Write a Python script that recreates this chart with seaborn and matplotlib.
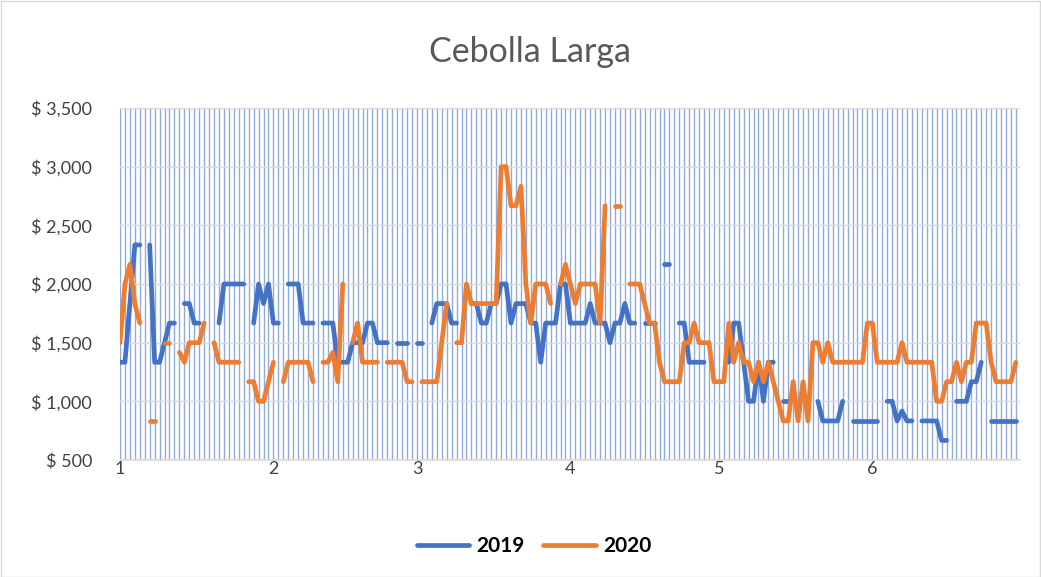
import numpy as np
import pandas as pd
import matplotlib
matplotlib.use("Agg")
import matplotlib.pyplot as plt
import matplotlib.dates as mdates
from matplotlib.ticker import MultipleLocator, FuncFormatter
import seaborn as sns

N = None

# Precio diario (COP) de la cebolla larga, enero a junio; None = sin dato
price_2019 = [
    1333, 1333, 1833, 2333, 2333, N, 2333, 1333, 1333, 1500,
    1667, 1667, N, 1833, 1833, 1667, 1667, N, N, N,
    1667, 2000, 2000, 2000, 2000, 2000, N, 1667, 2000, 1833,
    2000, 1667, 1667, N, 2000, 2000, 2000, 1667, 1667, 1667,
    N, 1667, 1667, 1667, 1333, 1333, 1333, 1500, 1500, 1500,
    1667, 1667, 1500, 1500, 1500, N, 1500, 1500, 1500, N,
    1500, 1500, N, 1667, 1833, 1833, 1833, 1667, 1667, N,
    N, 1833, 1833, 1667, 1667, 1833, 1833, 2000, 2000, 1667,
    1833, 1833, 1833, 1667, 1667, 1333, 1667, 1667, 1667, 2000,
    2000, 1667, 1667, 1667, 1667, 1833, 1667, 1667, 1667, 1500,
    1667, 1667, 1833, 1667, 1667, N, 1667, 1667, 1667, N,
    2167, 2167, N, 1667, 1667, 1333, 1333, 1333, 1333, N,
    N, N, N, 1333, 1667, 1667, 1333, 1000, 1000, 1333,
    1000, 1333, 1333, N, 1000, 1000, N, N, N, N,
    N, 1000, 833, 833, 833, 833, 1000, N, 833, 833,
    833, 833, 833, 833, N, 1000, 1000, 833, 917, 833,
    833, N, 833, 833, 833, 833, 667, 667, N, 1000,
    1000, 1000, 1167, 1167, 1333, N, 833, 833, 833, 833,
    833, 833,
]

price_2020 = [
    1500, 2000, 2167, 1833, 1667, N, 833, 833, N, 1500,
    1500, N, 1417, 1333, 1500, 1500, 1500, 1667, N, 1500,
    1333, 1333, 1333, 1333, 1333, N, 1167, 1167, 1000, 1000,
    1167, 1333, N, 1167, 1333, 1333, 1333, 1333, 1333, 1167,
    N, 1333, 1333, 1417, 1167, 2000, N, 1500, 1667, 1333,
    1333, 1333, 1333, N, 1333, 1333, 1333, 1333, 1167, 1167,
    N, 1167, 1167, 1167, 1167, 1500, 1833, N, 1500, 1500,
    2000, 1833, 1833, 1833, 1833, 1833, 1833, 3000, 3000, 2667,
    2667, 2833, 2000, 1667, 2000, 2000, 2000, 1833, N, 2000,
    2167, 2000, 1833, 2000, 2000, 2000, 2000, 1667, 2667, N,
    2667, 2667, N, 2000, 2000, 2000, 1833, 1667, 1667, 1333,
    1167, 1167, 1167, 1167, 1500, 1500, 1667, 1500, 1500, 1500,
    1167, 1167, 1167, 1667, 1333, 1500, 1333, 1333, 1167, 1333,
    1167, 1333, 1167, 1000, 833, 833, 1167, 833, 1167, 833,
    1500, 1500, 1333, 1500, 1333, 1333, 1333, 1333, 1333, 1333,
    1333, 1667, 1667, 1333, 1333, 1333, 1333, 1333, 1500, 1333,
    1333, 1333, 1333, 1333, 1333, 1000, 1000, 1167, 1167, 1333,
    1167, 1333, 1333, 1667, 1667, 1667, 1333, 1167, 1167, 1167,
    1167, 1333,
]

series_names = ["2019", "2020"]
series_colors = ["#4472C4", "#ED7D31"]
title = "Cebolla Larga"

# Ambos años se dibujan sobre el mismo calendario (día del año)
dates = pd.date_range("2020-01-01", periods=len(price_2019), freq="D")

frames = []
for name, values in zip(series_names, [price_2019, price_2020]):
    s = pd.Series(values, dtype=float)
    tramo = s.isna().cumsum()  # corta la línea donde falta el dato
    frames.append(pd.DataFrame({"fecha": dates, "precio": s,
                                "año": name, "tramo": tramo}).dropna())
data = pd.concat(frames, ignore_index=True)

sns.set_theme(style="white")
plt.rcParams["font.family"] = ["Lato", "DejaVu Sans"]

fig = plt.figure(figsize=(10.41, 5.77), dpi=100)
ax = fig.add_axes([120 / 1041, 1 - 460 / 577, 900 / 1041, 352 / 577])

sns.lineplot(data=data, x="fecha", y="precio", hue="año", units="tramo",
             estimator=None, palette=dict(zip(series_names, series_colors)),
             linewidth=3.4, solid_capstyle="round", solid_joinstyle="round",
             legend=False, ax=ax, zorder=3)

ax.set_xlim(pd.Timestamp("2020-01-01"), pd.Timestamp("2020-06-30 20:00"))
ax.set_ylim(500, 3500)

ax.xaxis.set_major_locator(mdates.MonthLocator())
ax.xaxis.set_minor_locator(mdates.DayLocator())
ax.xaxis.set_major_formatter(FuncFormatter(lambda v, p: str(mdates.num2date(v).month)))
ax.yaxis.set_major_locator(MultipleLocator(500))
ax.yaxis.set_major_formatter(FuncFormatter(lambda v, p: f"$ {v:,.0f}"))

ax.grid(False)
ax.grid(which="both", axis="x", color="#8FAADC", linewidth=1.0, zorder=0)
ax.grid(which="major", axis="y", color="#D9D9D9", linewidth=1.0, zorder=1)
ax.set_axisbelow(True)

for side in ["top", "right", "left"]:
    ax.spines[side].set_visible(False)
ax.spines["bottom"].set_color("#D9D9D9")
ax.spines["bottom"].set_linewidth(1.2)

ax.tick_params(axis="both", which="both", length=0, labelsize=13, labelcolor="#404040")
ax.tick_params(axis="y", pad=20)
ax.tick_params(axis="x", pad=1)
ax.set_xlabel("")
ax.set_ylabel("")

fig.text(530 / 1041, 1 - 52 / 577, title, ha="center", va="center",
         fontsize=24.5, color="#595959")

handles = [plt.Line2D([], [], color=c, linewidth=3.4, solid_capstyle="round")
           for c in series_colors]
fig.legend(handles, series_names, loc="center", ncol=2, frameon=False,
           bbox_to_anchor=(534 / 1041, 1 - 546 / 577),
           prop={"weight": "bold", "size": 15}, handlelength=2.5,
           handletextpad=0.35, columnspacing=0.9, labelcolor="black")

# Borde del área del gráfico
fig.patches.append(plt.Rectangle((0.5 / 1041, 0.5 / 577), 1 - 1.5 / 1041, 1 - 1.5 / 577,
                                 transform=fig.transFigure, fill=False,
                                 edgecolor="#D9D9D9", linewidth=1.0))

fig.savefig("out.png", dpi=100)
